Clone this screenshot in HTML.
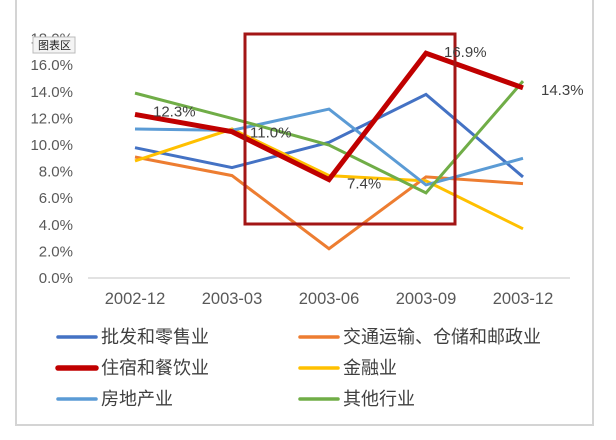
<!DOCTYPE html>
<html><head><meta charset="utf-8"><style>
body{margin:0;background:#fff;width:616px;height:435px;overflow:hidden;font-family:"Liberation Sans","Noto Sans CJK SC",sans-serif}
</style></head><body>
<svg width="616" height="435" xmlns="http://www.w3.org/2000/svg">
<rect x="16" y="-2" width="577" height="427" fill="#fff" stroke="#d4d4d4" stroke-width="2"/>
<g id="yaxis"></g>
<g id="xaxis"></g>
<g id="series"></g>
<rect x="245" y="34" width="210" height="190" fill="none" stroke="#a31515" stroke-width="3"/>
<g id="labels"></g>
<g id="legend"></g>
<rect x="33" y="37" width="42" height="16" fill="#f4f4f4" stroke="#bbb"/>
<text x="38" y="49" font-size="11" fill="#222">图表区</text>
</svg>
<script>
const categories=["2002-12","2003-03","2003-06","2003-09","2003-12"];
const yTicks=[0,2,4,6,8,10,12,14,16,18];
const names=["批发和零售业","交通运输、仓储和邮政业","住宿和餐饮业","金融业","房地产业","其他行业"];
const colors=["#4472c4","#ed7d31","#c00000","#ffc000","#5b9bd5","#70ad47"];
const widths=[3,3,5,3,3,3];
const sWholesale=[9.8,8.3,10.2,13.8,7.6];
const sTransport=[9.1,7.7,2.2,7.6,7.1];
const sHotel=[12.3,11.0,7.4,16.9,14.3];
const sFinance=[8.8,11.2,7.7,7.3,3.7];
const sRealEstate=[11.2,11.1,12.7,7.0,9.0];
const sOther=[13.9,12.0,10.0,6.4,14.8];
const series=[sWholesale,sTransport,sHotel,sFinance,sRealEstate,sOther];
const drawOrder=[0,1,3,4,5,2];
const NS="http://www.w3.org/2000/svg";
function y(v){return 278-v*13.3;}
function x(i){return 135+i*97;}
function mk(t,a,p){const e=document.createElementNS(NS,t);for(const k in a)e.setAttribute(k,a[k]);p.appendChild(e);return e;}
const ya=document.getElementById('yaxis');
yTicks.forEach(v=>{const t=mk('text',{x:73,y:y(v)+5,'text-anchor':'end','font-size':15,fill:'#595959'},ya);


t.textContent=v.toFixed(1)+'%';});
const xa=document.getElementById('xaxis');
const ax=mk('line',{x1:88,x2:570,y1:278,y2:278,stroke:'#d9d9d9','stroke-width':1.5},xa);


categories.forEach((c,i)=>{const t=mk('text',{x:x(i),y:304,'text-anchor':'middle','font-size':16.5,fill:'#595959'},xa);


t.textContent=c;});
const sg=document.getElementById('series');
drawOrder.forEach(k=>{const pts=series[k].map((v,i)=>x(i)+','+y(v)).join(' ');
const p=mk('polyline',{points:pts,fill:'none',stroke:colors[k],'stroke-width':widths[k],'stroke-linejoin':'miter'},sg);

});
const lg=document.getElementById('labels');
const offs=[[18,-2],[18,2],[18,5],[18,0],[18,3]];
sHotel.forEach((v,i)=>{const t=mk('text',{x:x(i)+offs[i][0],y:y(v)+offs[i][1]+4,'font-size':15,fill:'#404040'},lg);


t.textContent=v.toFixed(1)+'%';});
const lgd=document.getElementById('legend');
names.forEach((n,i)=>{const col=i%2,row=Math.floor(i/2);const lx=col?300:58,ly=337+row*31;
const g=mk('g',{},lgd);


mk('line',{x1:lx,x2:lx+38,y1:ly,y2:ly,stroke:colors[i],'stroke-width':widths[i]+0.5,'stroke-linecap':'round'},g);
const t=mk('text',{x:lx+43,y:ly+6,'font-size':18,fill:'#404040'},g);t.textContent=n;});
</script>
</body></html>
